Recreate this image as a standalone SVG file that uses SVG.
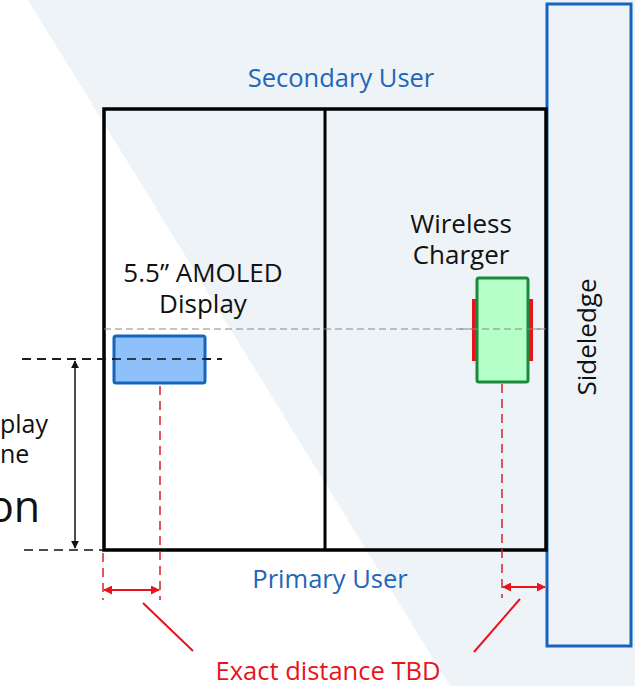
<svg xmlns="http://www.w3.org/2000/svg" width="635" height="686" viewBox="0 0 635 686">
<defs>
<style>
.t{font-family:"Open Sans","Noto Sans",sans-serif;}
.blue{fill:#1F66B8;font-size:25.5px;}
.blk{fill:#111;font-size:26px;}
.red{fill:#E8141C;font-size:25.5px;}
.dash{stroke:#111;stroke-width:1.5;stroke-dasharray:9,6;fill:none;}
.rdash{stroke:#D4232B;stroke-width:1.5;stroke-dasharray:9,6;fill:none;}
.rline{stroke:#E8141C;stroke-width:2;fill:none;}
</style>
<marker id="ra" viewBox="0 0 10 10" refX="9" refY="5" markerWidth="9" markerHeight="9" orient="auto-start-reverse" markerUnits="userSpaceOnUse">
<path d="M0,0 L10,5 L0,10 z" fill="#E8141C"/>
</marker>
<marker id="ka" viewBox="0 0 10 10" refX="9" refY="5" markerWidth="8" markerHeight="8" orient="auto-start-reverse" markerUnits="userSpaceOnUse">
<path d="M0,0 L10,5 L0,10 z" fill="#111"/>
</marker>
</defs>
<rect width="635" height="686" fill="#fff"/>
<polygon points="28,0 635,0 635,686 450,686" fill="#EEF3F7"/>
<g id="sideledge">
<rect x="547" y="4" width="84" height="642" fill="#EEF3F7" stroke="#1565C0" stroke-width="3"/>
<text class="t" x="589" y="337" transform="rotate(-90 589 337)" text-anchor="middle" font-size="26" fill="#111" dominant-baseline="middle">Sideledge</text>
</g>
<g id="table">
<rect x="104" y="109" width="442" height="441" fill="none" stroke="#000" stroke-width="3.5"/>
<line x1="325" y1="109" x2="325" y2="550" stroke="#000" stroke-width="3"/>
</g>
<g id="labels">
<text class="t blue" x="341" y="87" text-anchor="middle">Secondary User</text>
<text class="t blue" x="330" y="588" text-anchor="middle">Primary User</text>
<text class="t blk" x="203" y="282" text-anchor="middle">5.5” AMOLED</text>
<text class="t blk" x="203" y="313" text-anchor="middle">Display</text>
<text class="t blk" x="461" y="233" text-anchor="middle">Wireless</text>
<text class="t blk" x="461" y="264" text-anchor="middle">Charger</text>
<text class="t" x="0" y="433" font-size="25" fill="#111">play</text>
<text class="t" x="0" y="463" font-size="25" fill="#111">ne</text>
<text class="t" x="-12" y="522" font-size="43" fill="#111">on</text>
<text class="t red" x="328" y="680" text-anchor="middle">Exact distance TBD</text>
</g>
<g id="connectors">
<line x1="104" y1="329" x2="546" y2="329" stroke="#888" stroke-width="1.2" stroke-dasharray="7,4"/>
<line class="dash" x1="22" y1="359" x2="222" y2="359"/>
<line class="dash" x1="24" y1="550" x2="103" y2="550"/>
<line x1="75" y1="361" x2="75" y2="548" stroke="#111" stroke-width="1.5" marker-start="url(#ka)" marker-end="url(#ka)"/>
<line class="rdash" x1="160" y1="386" x2="160" y2="600"/>
<line class="rdash" x1="103" y1="553" x2="103" y2="600"/>
<line class="rdash" x1="502" y1="384" x2="502" y2="598"/>
<line class="rline" x1="104" y1="590" x2="159" y2="590" marker-start="url(#ra)" marker-end="url(#ra)"/>
<line class="rline" x1="503" y1="587" x2="545" y2="587" marker-start="url(#ra)" marker-end="url(#ra)"/>
<line class="rline" x1="143" y1="603" x2="193" y2="651"/>
<line class="rline" x1="520" y1="599" x2="474" y2="652"/>
</g>
<g id="display">
<rect x="114" y="336" width="91" height="47" rx="2" fill="#8EC1FA" stroke="#1565C0" stroke-width="3"/>
<line class="dash" x1="22" y1="359" x2="222" y2="359"/>
</g>
<g id="charger">
<rect x="472" y="299" width="4" height="62" fill="#E8141C"/>
<rect x="529" y="299" width="4" height="62" fill="#E8141C"/>
<rect x="477" y="278" width="51" height="104" rx="2" fill="#B5FFC9" stroke="#1A8A3A" stroke-width="3"/>
<line x1="460" y1="329" x2="546" y2="329" stroke="#888" stroke-width="1.2" stroke-dasharray="7,4"/>
</g>
</svg>
